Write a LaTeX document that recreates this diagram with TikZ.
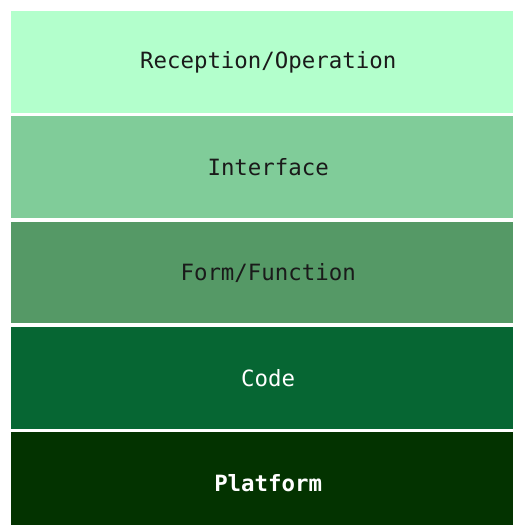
\documentclass[tikz,border=0pt]{standalone}
\usepackage{fontspec}
\setmonofont{DejaVu Sans Mono}
\usepackage{xcolor}
\usepackage{tikz}

\definecolor{receptionfill}{HTML}{B3FFCC}
\definecolor{interfacefill}{HTML}{80CC99}
\definecolor{formfill}{HTML}{559966}
\definecolor{codefill}{HTML}{066633}
\definecolor{platformfill}{HTML}{033300}
\definecolor{darktext}{HTML}{1A1A1A}

\begin{document}
\begin{tikzpicture}[x=1pt, y=1pt,
    layer/.style={anchor=north west, inner sep=0pt, minimum width=514pt,
        minimum height=101.5pt, font=\fontsize{22.4}{26}\selectfont\ttfamily}]
    \useasboundingbox (0,0) rectangle (513,525);
    \clip (0,0) rectangle (513,525);
    % five stacked layers, top to bottom
    \foreach \name/\col/\tcol/\fnt/\txt [count=\i from 0] in
        {reception/receptionfill/darktext/\mdseries/Reception\slash Operation,
         interface/interfacefill/darktext/\mdseries/Interface,
         form/formfill/darktext/\mdseries/Form\slash Function,
         code/codefill/white/\mdseries/Code,
         platform/platformfill/white/\bfseries/Platform}
        \node[layer, fill=\col, text=\tcol] (\name) at (11, 514-\i*105.3) {\fnt\txt};
\end{tikzpicture}
\end{document}
